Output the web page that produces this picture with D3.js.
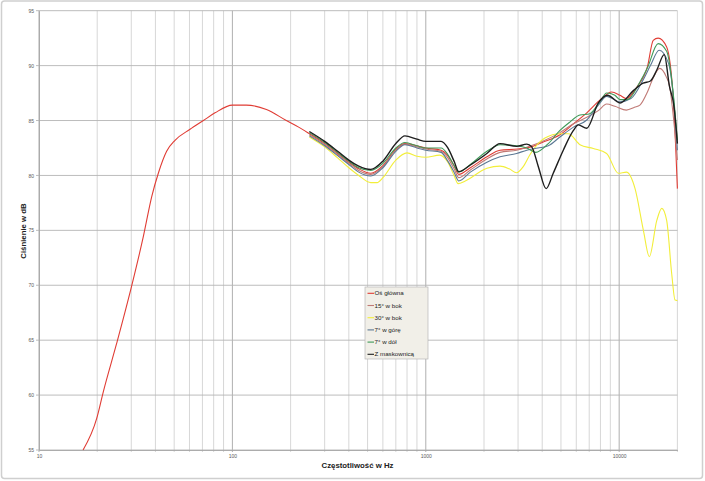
<!DOCTYPE html>
<html>
<head>
<meta charset="utf-8">
<script src="https://cdn.jsdelivr.net/npm/d3@7"></script>
<style>
  html, body { margin: 0; padding: 0; background: #fff; }
  text { font-family: 'Liberation Sans', Arial, sans-serif; }
</style>
</head>
<body>
<div id="chart"></div>
<script>
const osGlowna = [[16.9,55],[19.9,57.9],[21.5,60.3],[25.2,64.7],[30.1,69.9],[34.6,74.4],[38.3,78.1],[41.4,80.2],[45.7,82.2],[50.5,83.2],[60.4,84.2],[70.8,85.0],[81.3,85.7],[100,86.4],[118,86.4],[150,86.0],[190,85.0],[220,84.4],[250,83.8],[300,82.9],[350,82.0],[400,81.2],[450,80.6],[520,80.2],[600,80.9],[700,82.4],[780,82.9],[900,82.7],[1000,82.5],[1200,82.3],[1300,81.8],[1400,80.9],[1480,80.1],[1700,80.7],[2070,81.7],[2420,82.3],[3000,82.4],[3500,82.6],[4000,83.0],[4940,83.7],[5800,84.7],[6800,85.7],[8000,86.9],[9140,87.6],[10100,87.3],[10900,87.0],[12400,88.1],[14000,89.9],[15000,92.3],[15900,92.5],[17600,91.7],[19100,86.6],[20000,78.8]]
const bok15 = [[250,83.7],[300,82.8],[350,81.9],[400,81.1],[450,80.45],[520,80.1],[600,80.8],[700,82.3],[780,82.85],[900,82.6],[1000,82.4],[1200,82.2],[1300,81.6],[1400,80.6],[1480,79.8],[1700,80.5],[2070,81.5],[2420,82.1],[2950,82.3],[3500,82.7],[4000,83.1],[4940,83.9],[5800,84.7],[6800,85.3],[7800,85.9],[8610,86.5],[9500,86.3],[10900,85.95],[12000,86.2],[12800,86.4],[14000,87.6],[15000,88.9],[16200,89.75],[17500,89.0],[18230,88.1],[19100,85.2],[20000,81.4]]
const bok30 = [[250,83.5],[300,82.6],[350,81.6],[400,80.7],[450,80.0],[520,79.35],[560,79.35],[600,79.8],[700,81.4],[800,82.05],[900,81.75],[1000,81.65],[1180,81.85],[1300,81.2],[1400,80.0],[1470,79.25],[1600,79.5],[2070,80.65],[2420,80.85],[2700,80.6],[2950,80.25],[3190,80.8],[3460,81.9],[3890,83.05],[4130,83.4],[4940,83.8],[5460,83.8],[6270,82.8],[7350,82.45],[8610,82.0],[9900,80.2],[10900,80.3],[12080,78.8],[13340,75.0],[14320,72.6],[15650,75.9],[16600,77.0],[17600,75.9],[18700,71.0],[19450,68.65],[20000,68.6]]
const gora7 = [[250,83.6],[300,82.7],[350,81.8],[400,81.0],[450,80.3],[520,79.95],[600,80.7],[700,82.2],[780,82.8],[900,82.5],[1000,82.3],[1200,82.1],[1300,81.3],[1400,80.3],[1480,79.5],[1700,80.3],[2070,81.2],[2420,81.7],[2950,82.0],[3330,82.3],[3800,82.5],[4300,82.7],[4940,83.5],[5800,84.4],[6800,85.05],[7800,86.4],[8610,87.2],[10100,86.7],[11500,87.0],[13300,88.7],[14500,90.0],[16100,91.4],[18000,90.2],[19100,87.0],[20000,82.3]]
const dol7 = [[250,83.9],[300,83.0],[350,82.1],[400,81.3],[450,80.7],[520,80.45],[600,81.1],[700,82.5],[780,83.0],[900,82.7],[1000,82.5],[1200,82.5],[1300,81.9],[1400,80.9],[1480,80.3],[1700,81.0],[2070,82.2],[2420,82.8],[2950,82.7],[3330,82.5],[3700,82.1],[4300,82.9],[4940,84.1],[5500,84.8],[6270,85.5],[7000,85.6],[8000,86.8],[8610,87.5],[9500,87.3],[10100,86.9],[11000,86.9],[12800,88.5],[14000,89.8],[15900,92.0],[17600,91.3],[19100,87.2],[20000,83.2]]
const maskownica = [[250,84.0],[300,83.1],[350,82.2],[400,81.4],[450,80.85],[520,80.55],[600,81.3],[700,82.9],[780,83.6],[900,83.3],[1000,83.1],[1200,83.1],[1300,82.5],[1400,81.3],[1480,80.35],[1700,80.95],[2070,82.0],[2420,82.9],[2950,82.65],[3330,82.85],[3530,82.6],[3820,80.8],[4190,78.8],[4560,80.2],[5140,82.3],[5800,84.1],[6150,84.6],[6800,84.3],[7800,86.6],[8700,87.3],[10100,86.6],[11800,87.7],[13300,88.4],[14500,88.6],[15650,89.6],[17100,91.0],[18200,88.1],[19200,86.3],[20000,82.9]]

const seriesNames = ['Oś główna', '15° w bok', '30° w bok', '7° w górę', '7° w dół', 'Z maskownicą']
const seriesData = [osGlowna, bok15, bok30, gora7, dol7, maskownica]
const seriesColors = ['#e03c34', '#c07a76', '#f2ee3a', '#5b7894', '#3e9a58', '#1e1e1e']

const yTicks = [55, 60, 65, 70, 75, 80, 85, 90, 95]
const xLabels = [10, 100, 1000, 10000]
const xGrid = [20,30,40,50,60,70,80,90, 200,300,400,500,600,700,800,900, 2000,3000,4000,5000,6000,7000,8000,9000, 20000]

const W = 705, H = 481
const plot = { left: 39, right: 677.4, top: 10.7, bottom: 450 }

const svg = d3.select('#chart').append('svg')
  .attr('width', W)
  .attr('height', H)

// ramka wykresu
svg.append('rect')
  .attr('x', 1.5).attr('y', 1)
  .attr('width', 701).attr('height', 477.5)
  .attr('rx', 3)
  .style('fill', '#fff')
  .style('stroke', '#cfcfcf')
  .style('stroke-width', 1.5)

const x = d3.scaleLog()
  .domain([10, 20000])
  .range([plot.left, plot.right])

const y = d3.scaleLinear()
  .domain([55, 95])
  .range([plot.bottom, plot.top])

// siatka pionowa
svg.append('g').selectAll('line')
  .data(xGrid)
  .enter().append('line')
  .attr('x1', d => x(d)).attr('x2', d => x(d))
  .attr('y1', plot.top).attr('y2', plot.bottom + 2)
  .style('stroke', '#cdcdcd')
  .style('stroke-width', 0.8)

svg.append('g').selectAll('line')
  .data(xLabels)
  .enter().append('line')
  .attr('x1', d => x(d)).attr('x2', d => x(d))
  .attr('y1', plot.top).attr('y2', plot.bottom + 2)
  .style('stroke', '#a6a6a6')
  .style('stroke-width', 0.9)

// siatka pozioma
svg.append('g').selectAll('line')
  .data(yTicks)
  .enter().append('line')
  .attr('x1', plot.left - 3).attr('x2', plot.right)
  .attr('y1', d => y(d)).attr('y2', d => y(d))
  .style('stroke', '#b4b4b4')
  .style('stroke-width', 0.9)

// opisy osi
const yAxis = d3.axisLeft(y).tickValues(yTicks).tickSize(0).tickPadding(5)
const yGuide = svg.append('g').attr('transform', 'translate(' + plot.left + ',0)')
yAxis(yGuide)
yGuide.select('.domain').style('stroke', '#a6a6a6').style('stroke-width', 0.9)
yGuide.selectAll('text').style('font-size', '5px').style('fill', '#595959').style('font-family', "'Liberation Sans', Arial, sans-serif")

const xAxis = d3.axisBottom(x).tickValues(xLabels).tickFormat(d3.format('d')).tickSize(0).tickPadding(4)
const xGuide = svg.append('g').attr('transform', 'translate(0,' + plot.bottom + ')')
xAxis(xGuide)
xGuide.select('.domain').style('stroke', '#a6a6a6').style('stroke-width', 0.9)
xGuide.selectAll('text').style('font-size', '5px').style('fill', '#595959').style('font-family', "'Liberation Sans', Arial, sans-serif")

svg.append('text')
  .attr('x', 357.5).attr('y', 468)
  .attr('text-anchor', 'middle')
  .style('font-size', '7.8px')
  .style('font-weight', 'bold')
  .style('fill', '#222')
  .text('Częstotliwość w Hz')

svg.append('text')
  .attr('transform', 'translate(26,231) rotate(-90)')
  .attr('text-anchor', 'middle')
  .style('font-size', '7.8px')
  .style('font-weight', 'bold')
  .style('fill', '#222')
  .text('Ciśnienie w dB')

// krzywe
const line = d3.line()
  .x(d => x(d[0]))
  .y(d => y(d[1]))
  .curve(d3.curveMonotoneX)

svg.append('g').selectAll('path')
  .data(seriesData)
  .enter().append('path')
  .attr('d', line)
  .style('fill', 'none')
  .style('stroke', (d, i) => seriesColors[i])
  .style('stroke-width', (d, i) => i === 5 ? 1.4 : 1.1)

// legenda
const legend = svg.append('g').attr('transform', 'translate(365,287)')
legend.append('rect')
  .attr('width', 63).attr('height', 72)
  .style('fill', '#f1efe8')
  .style('stroke', '#b8b8b8')
  .style('stroke-width', 0.7)

const item = legend.selectAll('g')
  .data(seriesNames)
  .enter().append('g')
  .attr('transform', (d, i) => 'translate(0,' + (6.3 + i * 12.2) + ')')

item.append('line')
  .attr('x1', 2.5).attr('x2', 9)
  .style('stroke', (d, i) => seriesColors[i])
  .style('stroke-width', 1.1)

item.append('text')
  .attr('x', 9.5).attr('dy', '0.35em')
  .style('font-size', '6.2px')
  .style('fill', '#222')
  .text(d => d)
</script>
</body>
</html>
